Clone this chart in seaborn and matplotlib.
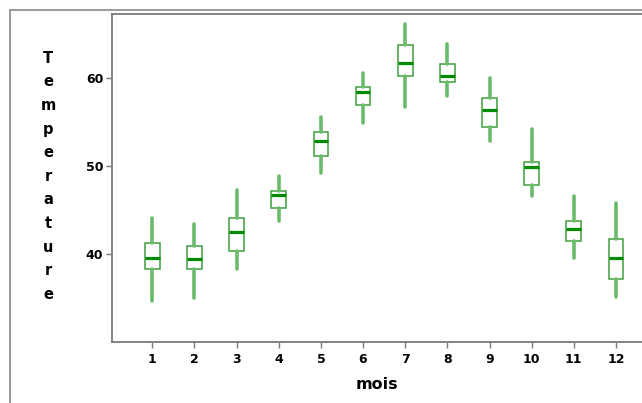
import matplotlib
matplotlib.use("Agg")
import matplotlib.pyplot as plt
from matplotlib.lines import Line2D
import pandas as pd
import seaborn as sns

# Monthly temperature summaries: minimum, first quartile, median, third quartile, maximum
months = [1, 2, 3, 4, 5, 6, 7, 8, 9, 10, 11, 12]
t_min = [34.7, 35.0, 38.3, 43.8, 49.2, 54.9, 56.7, 58.0, 52.9, 46.6, 39.6, 35.1]
t_q1 = [38.3, 38.3, 40.3, 45.2, 51.1, 56.9, 60.2, 59.6, 54.4, 47.8, 41.5, 37.2]
t_med = [39.6, 39.4, 42.5, 46.7, 52.9, 58.4, 61.7, 60.3, 56.4, 49.9, 42.8, 39.5]
t_q3 = [41.3, 40.9, 44.1, 47.2, 53.9, 59.0, 63.8, 61.6, 57.8, 50.5, 43.8, 41.7]
t_max = [44.1, 43.4, 47.3, 48.9, 55.6, 60.6, 66.2, 63.9, 60.0, 54.2, 46.6, 45.8]
y_ticks = [40, 50, 60]

rows = []
for i, m in enumerate(months):
    for v in (t_min[i], t_q1[i], t_med[i], t_q3[i], t_max[i]):
        rows.append({"mois": m, "Temperature": v})
df = pd.DataFrame(rows)

sns.set_style("white")
plt.rcParams["font.family"] = ["DejaVu Sans"]
plt.rcParams["text.color"] = "black"

W, H = 642, 403
fig = plt.figure(figsize=(W / 100, H / 100), dpi=100)
fig.patch.set_facecolor("white")

ax_left, ax_right, ax_top, ax_bottom = 111.5, 642, 14, 342
ax = fig.add_axes([ax_left / W, 1 - ax_bottom / H,
                   (ax_right - ax_left) / W, (ax_bottom - ax_top) / H])

edge_green = "#3f9f3f"
median_green = "#008a00"
whisker_green = "#6cbb6c"

sns.boxplot(
    data=df, x="mois", y="Temperature", ax=ax,
    whis=(0, 100), width=0.35, showcaps=False, showfliers=False,
    color="white", linecolor=edge_green, linewidth=1.1,
    boxprops=dict(facecolor="white", edgecolor=edge_green, linewidth=1.1),
    medianprops=dict(color=median_green, linewidth=2.3),
    whiskerprops=dict(color=whisker_green, linewidth=2.6, solid_capstyle="round"),
)

# Axis ranges and ticks
px_per_cat = 42.15
x0_px = 152.3
ax.set_xlim((ax_left - x0_px) / px_per_cat, (ax_right - x0_px) / px_per_cat)
ax.set_ylim(30, 67.3)
ax.set_yticks(y_ticks)
ax.set_yticklabels([str(v) for v in y_ticks])
ax.set_xticks(range(len(months)))
ax.set_xticklabels([str(m) for m in months])

spine_gray = "#7a7a7a"
for side in ("left", "bottom", "top"):
    ax.spines[side].set_visible(True)
    ax.spines[side].set_color(spine_gray)
    ax.spines[side].set_linewidth(1.3)
ax.spines["right"].set_visible(False)

ax.tick_params(axis="both", which="both", direction="out", color=spine_gray,
               width=1.0, length=4, labelsize=9, labelcolor="black")
ax.tick_params(axis="x", pad=4, bottom=True)
ax.tick_params(axis="y", pad=2, left=True)
for lab in ax.get_xticklabels() + ax.get_yticklabels():
    lab.set_fontweight("bold")

ax.set_xlabel("mois", fontsize=11.5, fontweight="bold", labelpad=8, color="black")
ax.set_ylabel("\n".join("Temperature"), rotation=0, fontsize=10.5,
              fontweight="bold", linespacing=1.72, va="center", ha="center",
              color="black")
ax.yaxis.set_label_coords((48 - ax_left) / (ax_right - ax_left), 0.505)

# Outer frame lines along the top and left edges
fig.add_artist(Line2D([10 / W, 1.0], [1 - 10 / H, 1 - 10 / H],
                      transform=fig.transFigure, color="#8a8a8a", linewidth=1.2))
fig.add_artist(Line2D([10 / W, 10 / W], [1 - 10 / H, 0.0],
                      transform=fig.transFigure, color="#8a8a8a", linewidth=1.2))

fig.savefig("out.png", dpi=100, facecolor="white")
